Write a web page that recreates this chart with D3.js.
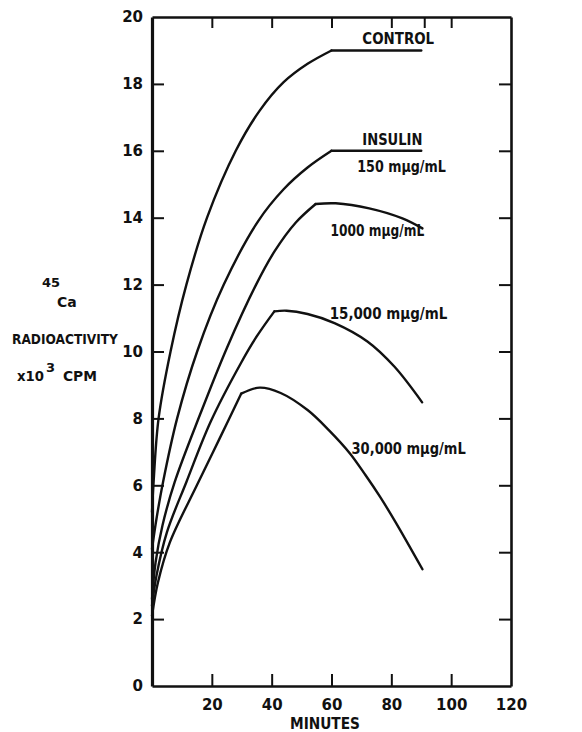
<!DOCTYPE html>
<html>
<head>
<meta charset="utf-8">
<script src="https://cdn.jsdelivr.net/npm/d3@7"></script>
<style>
  body { margin: 0; background: #fff; }
  svg { display: block; }
  text { font-family: "DejaVu Sans", sans-serif; font-weight: bold; fill: #111; }
</style>
</head>
<body>
<script>
// Data: [minutes, 45Ca radioactivity x10^3 cpm]
// each curve is split at its sharp corner: rise part + top/tail part
var controlRise = [[0, 5.2], [0.6, 6.2], [2.2, 8], [6.2, 10], [11.5, 12], [18.4, 14], [28, 16], [36, 17.2], [44, 18.05], [52, 18.6], [60, 19]];
var controlTop = [[60, 19], [90, 19]];

var insulinRise = [[0, 4.1], [1.5, 5], [3.7, 6.1], [8.4, 8], [15.1, 10], [24, 12], [35.5, 13.9], [44, 14.85], [52, 15.5], [60, 16]];
var insulinTop = [[60, 16], [90, 16]];

var ins1000Rise = [[0, 2.6], [1.2, 3.7], [3.5, 4.8], [7.6, 6.1], [16, 8.1], [25, 10.1], [34.8, 12], [41, 13], [48, 13.85], [54.7, 14.41]];
var ins1000Top = [[54.7, 14.41], [61.4, 14.43], [72.6, 14.28], [83.7, 13.98], [90.4, 13.68]];

var ins15000Rise = [[0, 2.4], [1.5, 3.3], [5, 4.6], [11.5, 6.1], [19.6, 7.9], [29.7, 9.65], [35, 10.45], [40.9, 11.2]];
var ins15000Top = [[40.9, 11.2], [45, 11.22], [52, 11.12], [61, 10.85], [72, 10.3], [81, 9.55], [90.3, 8.48]];

var ins30000Rise = [[0, 2.1], [2, 3.1], [6, 4.3], [15, 6], [22.5, 7.38], [29.8, 8.74]];
var ins30000Top = [[29.8, 8.74], [36, 8.92], [43, 8.76], [52, 8.25], [59.1, 7.65], [66.1, 6.96], [71.4, 6.3], [76.2, 5.66], [81.4, 4.9], [90.4, 3.49]];

// curve labels: [text, minute at left edge, value at baseline, width in minutes]
var curveLabels = [
    ["CONTROL", 70.3, 19.2, 24],
    ["INSULIN", 70.3, 16.17, 20.1],
    ["150 mμg/mL", 68.6, 15.37, 29.6],
    ["1000 mμg/mL", 59.7, 13.45, 31.3],
    ["15,000 mμg/mL", 59.4, 10.98, 39.3],
    ["30,000 mμg/mL", 66.7, 6.93, 38.2]
];

var yTickValues = [0, 2, 4, 6, 8, 10, 12, 14, 16, 18, 20];
var xTickValues = [20, 40, 60, 80, 100, 120];
var topTickValues = [20, 40, 60, 80, 91, 100];
var sideTickValues = [2, 4, 6, 8, 10, 12, 14, 16, 18];

const width = 582;
const height = 732;

let svg = d3.select("body")
    .append("svg")
    .attr("width", width)
    .attr("height", height);

let x = d3.scaleLinear().domain([0, 120]).range([152, 511]);
let y = d3.scaleLinear().domain([0, 20]).range([686, 17]);

// Axes, ticks point inward on every side
let leftAxis = svg.append("g")
    .attr("transform", `translate(${x(0)},0)`)
    .call(d3.axisLeft(y).tickValues(yTickValues).tickSize(-12).tickSizeOuter(0).tickPadding(9));

let bottomAxis = svg.append("g")
    .attr("transform", `translate(0,${y(0)})`)
    .call(d3.axisBottom(x).tickValues(xTickValues).tickSize(-12).tickSizeOuter(0).tickPadding(13));

let topAxis = svg.append("g")
    .attr("transform", `translate(0,${y(20)})`)
    .call(d3.axisTop(x).tickValues(topTickValues).tickSize(-11).tickSizeOuter(0).tickFormat(""));

let rightAxis = svg.append("g")
    .attr("transform", `translate(${x(120)},0)`)
    .call(d3.axisRight(y).tickValues(sideTickValues).tickSize(-12).tickSizeOuter(0).tickFormat(""));

// no tick marks at the corners
leftAxis.selectAll(".tick").filter(d => d === 0 || d === 20).select("line").remove();
bottomAxis.selectAll(".tick").filter(d => d === 120).select("line").remove();

svg.selectAll(".domain")
    .attr("stroke", "#111")
    .attr("stroke-width", 2.6);
leftAxis.select(".domain").attr("stroke-width", 3.2);

svg.selectAll(".tick line")
    .attr("stroke", "#111")
    .attr("stroke-width", 2);

leftAxis.selectAll("text")
    .attr("font-family", "DejaVu Sans")
    .attr("font-size", 15)
    .attr("font-weight", "bold");

bottomAxis.selectAll("text")
    .attr("font-family", "DejaVu Sans")
    .attr("font-size", 15)
    .attr("font-weight", "bold");

// Curves
let line = d3.line()
    .x(d => x(d[0]))
    .y(d => y(d[1]))
    .curve(d3.curveCatmullRom.alpha(0.5));

let pieces = [controlRise, controlTop, insulinRise, insulinTop, ins1000Rise, ins1000Top,
    ins15000Rise, ins15000Top, ins30000Rise, ins30000Top];

svg.append("g")
    .selectAll("path")
    .data(pieces)
    .enter()
    .append("path")
    .attr("d", line)
    .attr("fill", "none")
    .attr("stroke", "#111")
    .attr("stroke-width", 2.4)
    .attr("stroke-linejoin", "round")
    .attr("stroke-linecap", "round");

// Curve labels
svg.append("g")
    .selectAll("text")
    .data(curveLabels)
    .enter()
    .append("text")
    .attr("x", d => x(d[1]))
    .attr("y", d => y(d[2]))
    .attr("font-size", 15)
    .attr("textLength", d => x(d[1] + d[3]) - x(d[1]))
    .attr("lengthAdjust", "spacingAndGlyphs")
    .text(d => d[0]);

// squeeze a text horizontally so it fits a given width
let fitText = (sel, left, base, w) => {
    let len = sel.node().getComputedTextLength();
    sel.attr("transform", `translate(${left},${base}) scale(${w / len},1)`);
};

// X axis title
svg.append("text")
    .attr("x", 0)
    .attr("y", 0)
    .attr("font-size", 15)
    .text("MINUTES")
    .call(fitText, 290, 729, 70);

// Y axis title, stacked at the left
svg.append("text")
    .attr("x", 42)
    .attr("y", 287)
    .attr("font-size", 13)
    .text("45");

svg.append("text")
    .attr("x", 57)
    .attr("y", 307)
    .attr("font-size", 14)
    .text("Ca");

svg.append("text")
    .attr("font-size", 14)
    .text("RADIOACTIVITY")
    .call(fitText, 12, 344, 106);

svg.append("text")
    .attr("font-size", 14)
    .text("x10")
    .call(fitText, 17, 381, 27);

svg.append("text")
    .attr("x", 46)
    .attr("y", 372)
    .attr("font-size", 13)
    .text("3");

svg.append("text")
    .attr("font-size", 14)
    .text("CPM")
    .call(fitText, 63, 381, 34);
</script>
</body>
</html>
